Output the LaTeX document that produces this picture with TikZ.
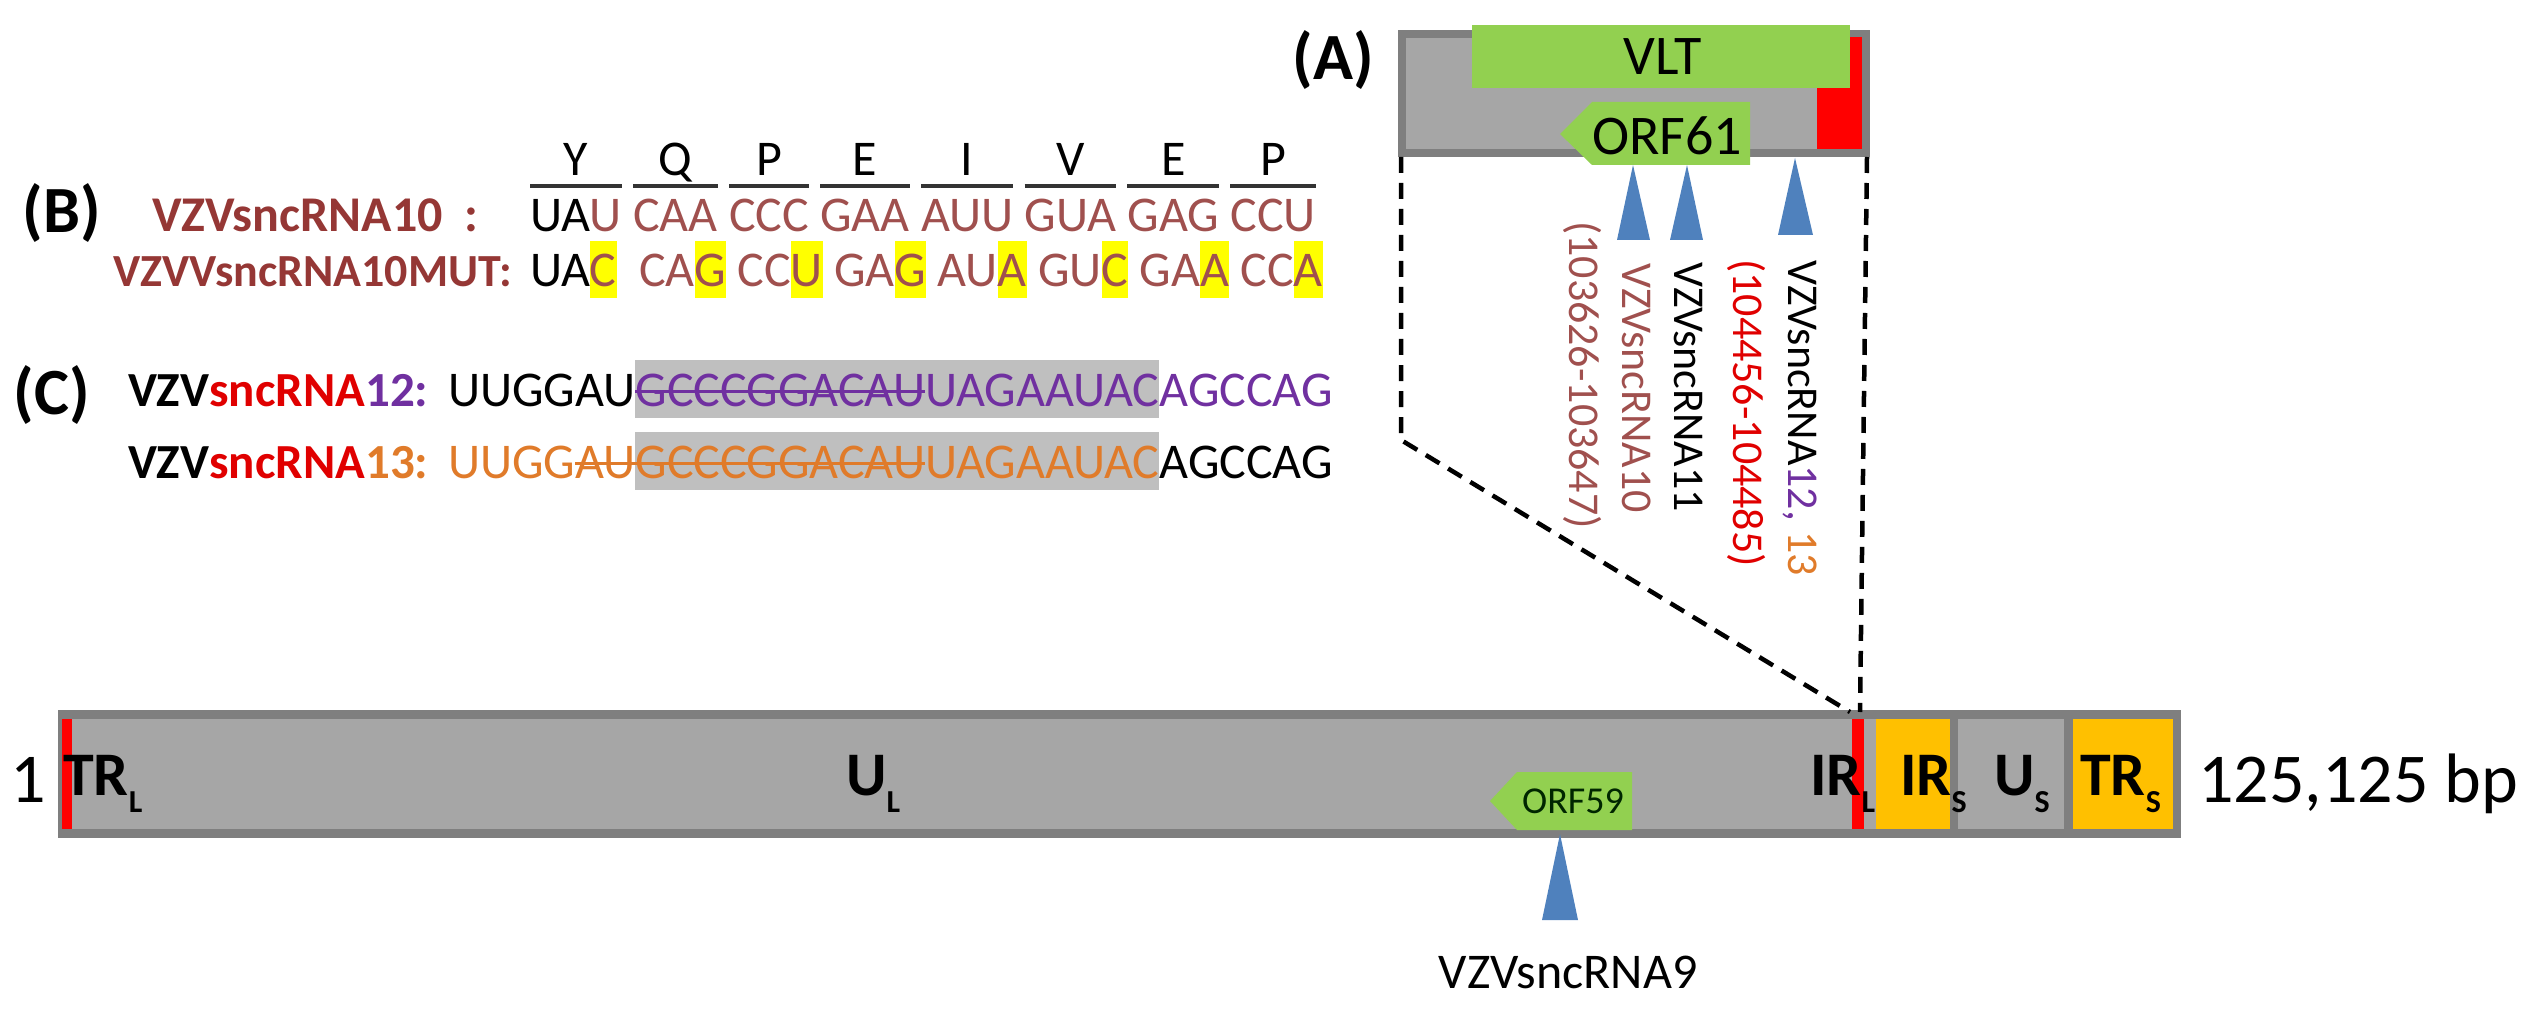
\documentclass[tikz,border=0pt]{standalone}
\usepackage{fontspec}
\setmainfont{Carlito}
\usetikzlibrary{backgrounds}
\definecolor{bargray}{HTML}{A6A6A6}
\definecolor{bordergray}{HTML}{7F7F7F}
\definecolor{genred}{HTML}{FF0000}
\definecolor{irorange}{HTML}{FFC000}
\definecolor{orfgreen}{HTML}{92D050}
\definecolor{mblue}{HTML}{4F81BD}
\definecolor{rbrown}{HTML}{953735}
\definecolor{cbrown}{HTML}{A0504E}
\definecolor{rpurple}{HTML}{7030A0}
\definecolor{rorange}{HTML}{E07B2A}
\definecolor{rred}{HTML}{E00000}
\definecolor{hlgray}{HTML}{BFBFBF}
\definecolor{hlyellow}{HTML}{FFFF00}
\newcommand{\fsz}[1]{\fontsize{#1}{#1}\selectfont}
\newcommand{\hlt}[1]{{\setlength{\fboxsep}{0pt}\colorbox{hlyellow}{\rule[-11pt]{0pt}{57pt}#1}}}
\begin{document}
\begin{tikzpicture}[x=1pt,y=-1pt,
  panel/.style={font=\fsz{66}\bfseries, inner sep=0},
  seqtxt/.style={font=\fsz{50}, inner sep=0, outer sep=0, anchor=base west},
  tagtxt/.style={font=\fsz{49}\bfseries, inner sep=0, outer sep=0, anchor=base west},
  vtxt/.style={font=\fsz{44}, inner sep=0, rotate=-90},
  bartxt/.style={font=\fsz{62}\bfseries, inner sep=0, anchor=base west},
  numtxt/.style={font=\fsz{70}, inner sep=0, anchor=base west},
  codon/.style={font=\fsz{50}, inner sep=0, outer sep=0, anchor=base west, text=cbrown},
  aa/.style={font=\fsz{50}, inner sep=0, anchor=base},
  ovl/.style={line width=4pt, black!80},
  strike/.style={line width=3pt},
  dashedlink/.style={line width=4.5pt, dash pattern=on 16pt off 10pt},
  marker/.style={fill=mblue},
  gbox/.style={fill=hlgray},
]
\useasboundingbox (0,0) rectangle (2528,1032);

% ---------------- genome bar ----------------
\fill[bordergray] (58,710) rectangle (2181,838);
\fill[bargray] (67,719) rectangle (2173,829);
\fill[genred] (62,719) rectangle (72,829);
\fill[genred] (1852,719) rectangle (1864,829);
\fill[irorange] (1876,719) rectangle (1950,829);
\fill[bordergray] (1950,719) rectangle (1958,829);
\fill[bordergray] (2064,719) rectangle (2073,829);
\fill[irorange] (2073,719) rectangle (2173,829);

\node[numtxt] (one) at (10,802) {1};
\node[numtxt] (len) at (2198,802) {125,125 bp};
\node[bartxt] (trl) at (63,795) {TR\raisebox{-17pt}{\fsz{32}L}};
\node[bartxt] (ul) at (846,795) {U\raisebox{-17pt}{\fsz{32}L}};
\node[bartxt] (irl) at (1810,795) {IR\raisebox{-17pt}{\fsz{32}L}};
\node[bartxt] (irs) at (1900,795) {IR\raisebox{-17pt}{\fsz{32}S}};
\node[bartxt] (us) at (1994,795) {U\raisebox{-17pt}{\fsz{32}S}};
\node[bartxt] (trs) at (2080,795) {TR\raisebox{-17pt}{\fsz{32}S}};

\fill[orfgreen] (1490,801) -- (1517,772) -- (1632,772) -- (1632,830) -- (1517,830) -- cycle;
\node[font=\fsz{38}, inner sep=0, text=black!85!green] (orf59) at (1573,801) {ORF59};
\fill[marker] (1560,834) -- (1578,920) -- (1542,920) -- cycle;
\node[font=\fsz{50}, inner sep=0, anchor=base] (s9) at (1568,988) {VZVsncRNA9};

% ---------------- panel A ----------------
\node[panel] (la) at (1333,60) {(A)};
\fill[bordergray] (1398,30) rectangle (1870,157);
\fill[bargray] (1406,38) rectangle (1862,149);
\fill[genred] (1817,37) rectangle (1862,149);
\fill[orfgreen] (1472,25) rectangle (1850,88);
\node[font=\fsz{56}, inner sep=0] (vlt) at (1663,57) {VLT};
\fill[orfgreen] (1560,134) -- (1592,102) -- (1750,102) -- (1750,165) -- (1592,165) -- cycle;
\node[font=\fsz{56}, inner sep=0] (orf61) at (1667,136) {ORF61};

\fill[marker] (1633,165) -- (1650,240) -- (1617,240) -- cycle;
\fill[marker] (1687,165) -- (1703,240) -- (1670,240) -- cycle;
\fill[marker] (1795,158) -- (1813,235) -- (1778,235) -- cycle;

\node[vtxt, text=cbrown] (r10pos) at (1583,375) {(103626-103647)};
\node[vtxt, text=cbrown] (r10) at (1637,388) {VZVsncRNA10};
\node[vtxt] (r11) at (1688,387) {VZVsncRNA11};
\node[vtxt, text=rred] (r12pos) at (1747,413) {(104456-104485)};
\node[vtxt] (r12) at (1800,418) {VZVsncRNA\textcolor{rpurple}{12,} \textcolor{rorange}{13}};

\coordinate (aBL) at (1401,157);
\coordinate (aBR) at (1867,157);
\coordinate (bend) at (1401,440);
\coordinate (irlL) at (1850,712);
\coordinate (irlR) at (1860,712);
\draw[dashedlink] (aBL) -- (bend) -- (irlL);
\draw[dashedlink] (aBR) -- (irlR);

% ---------------- panel B ----------------
\node[panel] (lb) at (62,213) {(B)};
\node[tagtxt, font=\fsz{50}\bfseries, text=rbrown] (b1tag) at (152,232) {VZVsncRNA10};
\node[tagtxt, font=\fsz{50}\bfseries, text=rbrown] (b1col) at (464,232) {:};
\node[tagtxt, font=\fsz{46}\bfseries, text=rbrown, anchor=base east] (b2tag) at (512,287) {VZVVsncRNA10MUT:};

\node[codon] (k1) at (530,232) {\textcolor{black}{UA}U};
\node[codon] (k2) at ([xshift=11.3pt]k1.base east) {CAA};
\node[codon] (k3) at ([xshift=11.3pt]k2.base east) {CCC};
\node[codon] (k4) at ([xshift=11.3pt]k3.base east) {GAA};
\node[codon] (k5) at ([xshift=11.3pt]k4.base east) {AUU};
\node[codon] (k6) at ([xshift=11.3pt]k5.base east) {GUA};
\node[codon] (k7) at ([xshift=11.3pt]k6.base east) {GAG};
\node[codon] (k8) at ([xshift=11.3pt]k7.base east) {CCU};

\node[codon] (m1) at (530,287) {\textcolor{black}{UA}\hlt{C}};
\node[codon] (m2) at ([xshift=22.6pt]m1.base east) {CA\hlt{G}};
\node[codon] (m3) at ([xshift=11.3pt]m2.base east) {CC\hlt{U}};
\node[codon] (m4) at ([xshift=11.3pt]m3.base east) {GA\hlt{G}};
\node[codon] (m5) at ([xshift=11.3pt]m4.base east) {AU\hlt{A}};
\node[codon] (m6) at ([xshift=11.3pt]m5.base east) {GU\hlt{C}};
\node[codon] (m7) at ([xshift=11.3pt]m6.base east) {GA\hlt{A}};
\node[codon] (m8) at ([xshift=11.3pt]m7.base east) {CC\hlt{A}};

\coordinate (ovlY) at (0,186);
\coordinate (aaY) at (0,176);
\foreach \k/\a in {k1/Y,k2/Q,k3/P,k4/E,k5/I,k6/V,k7/E,k8/P}{
  \draw[ovl] (\k.west |- ovlY) -- (\k.east |- ovlY);
  \node[aa] at (\k.center |- aaY) {\a};
}

% ---------------- panel C ----------------
\node[panel] (lc) at (52,395) {(C)};
\node[tagtxt] (c1tag) at (128,406) {VZV\textcolor{rred}{sncRNA}\textcolor{rpurple}{12:}};
\node[seqtxt] (c1a) at (448,406) {UUGGAU};
\node[seqtxt, text=rpurple] (c1b) at (c1a.base east) {GCCCGGACAU};
\node[seqtxt, text=rpurple] (c1c) at (c1b.base east) {UAGAAUAC};
\node[seqtxt, text=rpurple] (c1d) at (c1c.base east) {AGCCAG};
\draw[strike, rpurple] ([yshift=15pt]c1b.base west) -- ([yshift=15pt]c1b.base east);

\node[tagtxt] (c2tag) at (128,478) {VZV\textcolor{rred}{sncRNA}\textcolor{rorange}{13:}};
\node[seqtxt, text=rorange] (c2a) at (448,478) {UUGG};
\node[seqtxt, text=rorange] (c2b) at (c2a.base east) {AU};
\node[seqtxt, text=rorange] (c2c) at (c2b.base east) {GCCCGGACAU};
\node[seqtxt, text=rorange] (c2d) at (c2c.base east) {UAGAAUAC};
\node[seqtxt] (c2e) at (c2d.base east) {AGCCAG};
\draw[strike, rorange] ([yshift=15pt]c2b.base west) -- ([yshift=15pt]c2c.base east);

\begin{scope}[on background layer]
  \fill[gbox] ([yshift=46pt]c1b.base west) rectangle ([yshift=-12pt]c1c.base east);
  \fill[gbox] ([yshift=46pt]c2c.base west) rectangle ([yshift=-12pt]c2d.base east);
\end{scope}
\end{tikzpicture}
\end{document}
